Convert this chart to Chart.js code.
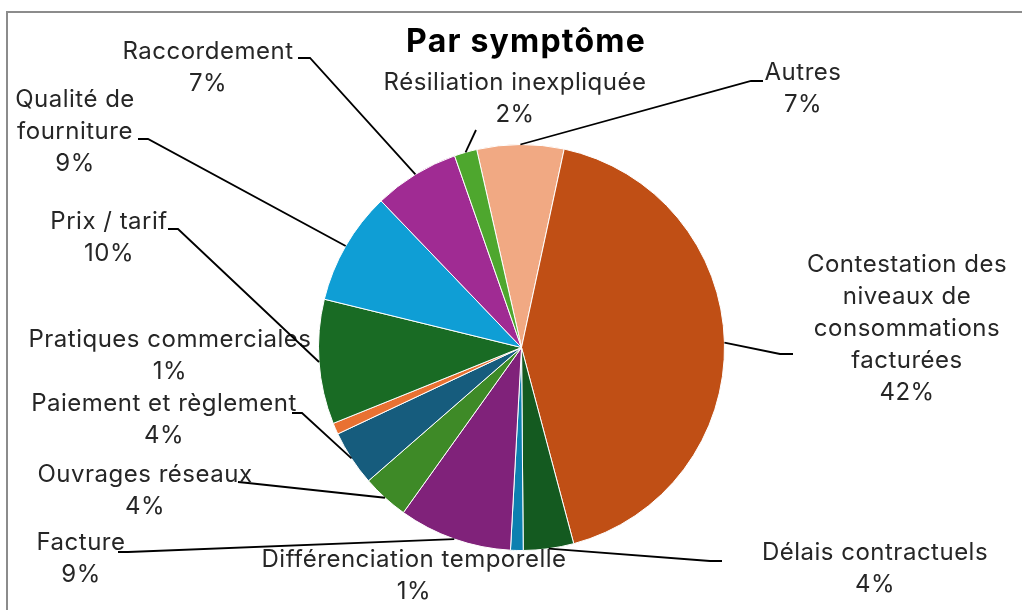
<!DOCTYPE html>
<html lang="fr">
<head>
<meta charset="utf-8">
<title>Par symptôme</title>
<script src="https://cdn.jsdelivr.net/npm/chart.js@4.4.1/dist/chart.umd.min.js"></script>
<style>
  html, body { margin: 0; padding: 0; background: #fff; overflow: hidden; }
  canvas { display: block; }
</style>
</head>
<body>
<canvas id="pieChart" width="1022" height="610"></canvas>
<script>
// Pie "Par symptôme" - share of complaints by symptom

// data (in %)
const categories = [
    'Autres',
    'Contestation des\nniveaux de\nconsommations\nfacturées',
    'Délais contractuels',
    'Différenciation temporelle',
    'Facture',
    'Ouvrages réseaux',
    'Paiement et règlement',
    'Pratiques commerciales',
    'Prix / tarif',
    'Qualité de\nfourniture',
    'Raccordement',
    'Résiliation inexpliquée'
];
const shares = [6.9, 42.4, 4.0, 1.0, 9.0, 3.7, 4.4, 0.9, 9.9, 9.0, 6.8, 1.8];
const sliceColors = [
    '#F1A983', '#C04F15', '#145A20', '#0C80B0', '#80227A', '#3E8A27',
    '#165C7D', '#E97132', '#196B24', '#0F9ED5', '#A02B93', '#4EA72E'
];

// label placement: text centre x, first baseline y, leader elbow / tail (null = no leader)
const labelLayout = [
    { cx: 803, y: 80,  elbow: [751, 81],  tail: [763, 81] },
    { cx: 907, y: 272, elbow: [780, 354], tail: [793, 354] },
    { cx: 875, y: 560, elbow: [710, 561], tail: [722, 561] },
    { cx: 414, y: 567, elbow: null,       tail: null },
    { cx: 81,  y: 550, elbow: [128, 552], tail: [118, 552] },
    { cx: 145, y: 482, elbow: [248, 483], tail: [238, 482] },
    { cx: 164, y: 411, elbow: [302, 413], tail: [292, 413] },
    { cx: 170, y: 347, elbow: null,       tail: null },
    { cx: 109, y: 229, elbow: [178, 229], tail: [168, 229] },
    { cx: 75,  y: 107, elbow: [148, 139], tail: [138, 139] },
    { cx: 208, y: 59,  elbow: [310, 58],  tail: [298, 58] },
    { cx: 515, y: 90,  elbow: [476, 130], tail: null }
];

const LABEL_FONT = '24px Inter, "Noto Sans", sans-serif';
const TITLE_FONT = 'bold 32px Inter, "Noto Sans", sans-serif';
const LINE_H = 32;

/**
 * Frame + title + outside labels with leader lines
 */
const decorPlugin = {
    id: 'decor',
    beforeDraw(chart) {
        const ctx = chart.ctx;
        ctx.save();
        ctx.fillStyle = '#fff';
        ctx.fillRect(0, 0, chart.width, chart.height);
        ctx.strokeStyle = '#8c8c8c';
        ctx.lineWidth = 2;
        ctx.beginPath();
        ctx.moveTo(7, chart.height);
        ctx.lineTo(7, 12);
        ctx.lineTo(chart.width, 12);
        ctx.stroke();
        ctx.restore();
    },
    afterDraw(chart) {
        const ctx = chart.ctx;
        const meta = chart.getDatasetMeta(0);
        const total = shares.reduce((a, b) => a + b, 0);

        ctx.save();
        // title
        ctx.fillStyle = '#000';
        ctx.font = TITLE_FONT;
        ctx.letterSpacing = '1.2px';
        ctx.textAlign = 'center';
        ctx.textBaseline = 'alphabetic';
        ctx.fillText('Par symptôme', 526, 52);

        meta.data.forEach((arc, i) => {
            const p = arc.getProps(['x', 'y', 'startAngle', 'endAngle', 'outerRadius'], true);
            const mid = (p.startAngle + p.endAngle) / 2;
            const ax = p.x + Math.cos(mid) * p.outerRadius;
            const ay = p.y + Math.sin(mid) * p.outerRadius;
            const lay = labelLayout[i];

            // leader line
            if (lay.elbow) {
                ctx.strokeStyle = '#000';
                ctx.lineWidth = 1.8;
                ctx.beginPath();
                ctx.moveTo(ax, ay);
                ctx.lineTo(lay.elbow[0], lay.elbow[1]);
                if (lay.tail) ctx.lineTo(lay.tail[0], lay.tail[1]);
                ctx.stroke();
            }

            // text
            const lines = categories[i].split('\n');
            lines.push(Math.round(shares[i] / total * 100) + '%');
            ctx.fillStyle = '#262626';
            ctx.font = LABEL_FONT;
            ctx.letterSpacing = '0.5px';
            lines.forEach((t, k) => ctx.fillText(t, lay.cx, lay.y + k * LINE_H));
        });
        ctx.restore();
    }
};

new Chart(document.getElementById('pieChart'), {
    type: 'pie',
    data: {
        labels: categories,
        datasets: [{
            data: shares,
            backgroundColor: sliceColors,
            borderColor: '#fff',
            borderWidth: 1
        }]
    },
    options: {
        responsive: false,
        animation: false,
        rotation: -12.75,
        layout: {
            padding: { top: 144, bottom: 59, left: 318, right: 297 }
        },
        plugins: {
            legend: { display: false },
            tooltip: { enabled: false },
            title: { display: false }
        }
    },
    plugins: [decorPlugin]
});
</script>
</body>
</html>
